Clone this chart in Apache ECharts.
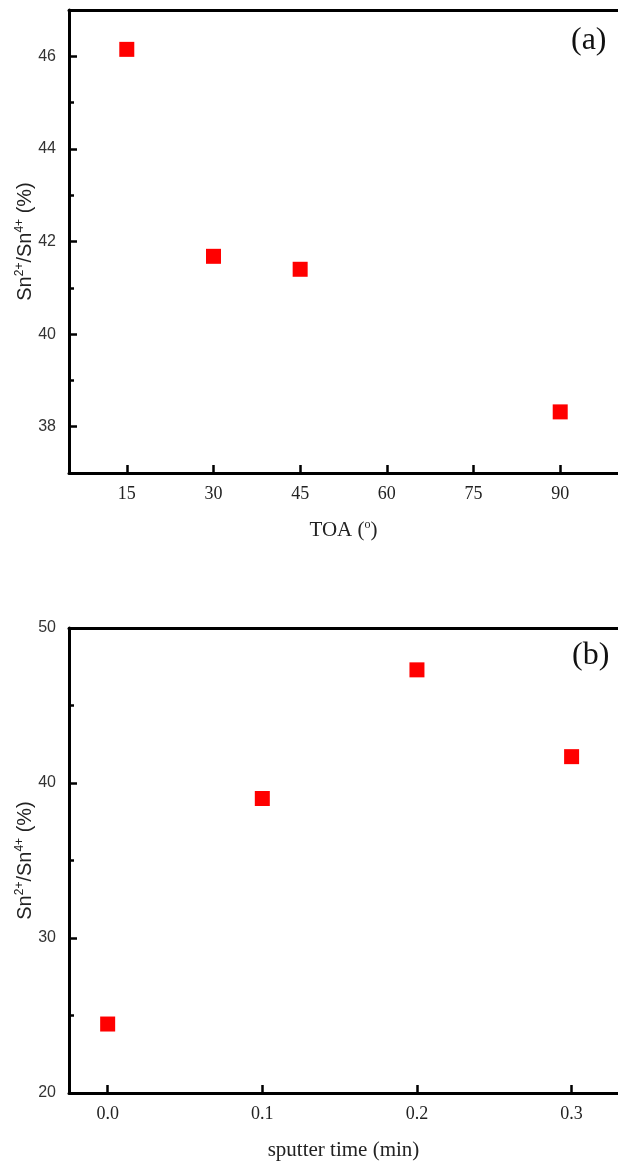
<!DOCTYPE html>
<html><head><meta charset="utf-8">
<script src="https://cdn.jsdelivr.net/npm/echarts@6/dist/echarts.min.js"></script>
<style>html,body{margin:0;padding:0;background:#fff}#c{width:618px;height:1165px}</style>
</head><body><div id="c"></div>
<script>
// Panel (a): Sn2+/Sn4+ vs take-off angle
const toaX = [15, 30, 45, 90];
const toaY = [46.15, 41.68, 41.40, 38.32];
const toaTicks = [15, 30, 45, 60, 75, 90];
const toaYMajor = [38, 40, 42, 44, 46];
const toaYMinor = [39, 41, 43, 45];
// Panel (b): Sn2+/Sn4+ vs sputter time
const sputX = [0.0, 0.1, 0.2, 0.3];
const sputY = [24.45, 39.0, 47.3, 41.7];
const sputTicks = [0.0, 0.1, 0.2, 0.3];
const sputYMajor = [20, 30, 40, 50];
const sputYMinor = [25, 35, 45];

const SERIF = 'Liberation Serif';
const SANS = 'Liberation Sans';
const chart = echarts.init(document.getElementById('c'), null, {renderer: 'canvas'});

const lineStyle = {color: '#000', width: 3};
const yName = '{n|Sn}{sup|2+}{n|/Sn}{sup|4+}{n| (%)}';
const yNameStyle = {
  fontFamily: SANS, color: '#222', align: 'center', verticalAlign: 'middle',
  rich: {
    n: {fontFamily: SANS, fontSize: 20, color: '#222', lineHeight: 26},
    sup: {fontFamily: SANS, fontSize: 12, color: '#222', padding: [0, 0, 11, 0], lineHeight: 26}
  }
};

function xAxes(gridIndex, min, max, ticks, name, nameRich, fmt, gap) {
  return [{
    type: 'value', gridIndex, min, max, position: 'bottom',
    axisLine: {show: true, onZero: false, lineStyle},
    axisTick: {show: true, inside: true, length: 8, lineStyle: {color: '#000', width: 2.5}, customValues: ticks},
    axisLabel: {show: true, customValues: ticks, margin: 12, fontFamily: SERIF, fontSize: 18, color: '#222', formatter: fmt},
    splitLine: {show: false},
    name, nameLocation: 'middle', nameGap: gap, nameMoveOverlap: false,
    nameTextStyle: nameRich
  }, {
    type: 'value', gridIndex, min, max, position: 'top',
    axisLine: {show: true, onZero: false, lineStyle},
    axisTick: {show: false}, axisLabel: {show: false}, splitLine: {show: false}
  }];
}

function yAxes(gridIndex, min, max, major, minor) {
  return [{
    type: 'value', gridIndex, min, max, position: 'left',
    axisLine: {show: true, onZero: false, lineStyle},
    axisTick: {show: true, inside: true, length: 8, lineStyle: {color: '#000', width: 2.5}, customValues: major},
    axisLabel: {show: true, customValues: major, margin: 13, fontFamily: SANS, fontSize: 16, color: '#333'},
    splitLine: {show: false},
    name: yName, nameLocation: 'middle', nameGap: 44, nameRotate: 90, nameMoveOverlap: false,
    nameTextStyle: yNameStyle
  }, {
    type: 'value', gridIndex, min, max, position: 'left',
    axisLine: {show: false, onZero: false},
    axisTick: {show: true, inside: true, length: 5, lineStyle: {color: '#000', width: 2.5}, customValues: minor},
    axisLabel: {show: false}, splitLine: {show: false}
  }];
}

const xNameA = '{n|TOA (}{sup|o}{n|)}';
const xNameAStyle = {align: 'center', verticalAlign: 'middle', rich: {
  n: {fontFamily: SERIF, fontSize: 21, color: '#222', lineHeight: 26},
  sup: {fontFamily: SERIF, fontSize: 12, color: '#222', padding: [0, 0, 11, 0], lineHeight: 26}
}};
const xNameB = 'sputter time (min)';
const xNameBStyle = {fontFamily: SERIF, fontSize: 21, color: '#222', align: 'center', verticalAlign: 'middle'};

const option = {
  backgroundColor: '#fff',
  animation: false,
  grid: [
    {left: 69, top: 10, right: -9, height: 463},
    {left: 69, top: 628, right: -16, height: 465}
  ],
  xAxis: [
    ...xAxes(0, 5, 100, toaTicks, xNameA, xNameAStyle, v => String(v), 57),
    ...xAxes(1, -0.025, 0.33, sputTicks, xNameB, xNameBStyle, v => v.toFixed(1), 57)
  ],
  yAxis: [
    ...yAxes(0, 37, 47, toaYMajor, toaYMinor),
    ...yAxes(1, 20, 50, sputYMajor, sputYMinor)
  ],
  series: [
    {type: 'scatter', xAxisIndex: 0, yAxisIndex: 0, symbol: 'rect', symbolSize: 15,
     itemStyle: {color: '#ff0000', opacity: 1}, data: toaX.map((x, i) => [x, toaY[i]])},
    {type: 'scatter', xAxisIndex: 2, yAxisIndex: 2, symbol: 'rect', symbolSize: 15,
     itemStyle: {color: '#ff0000', opacity: 1}, data: sputX.map((x, i) => [x, sputY[i]])}
  ],
  graphic: [
    {type: 'text', left: 571, top: 25, style: {text: '(a)', fontFamily: SERIF, fontSize: 32, fill: '#111'}},
    {type: 'text', left: 572, top: 640, style: {text: '(b)', fontFamily: SERIF, fontSize: 32, fill: '#111'}}
  ]
};
chart.setOption(option);
</script></body></html>
